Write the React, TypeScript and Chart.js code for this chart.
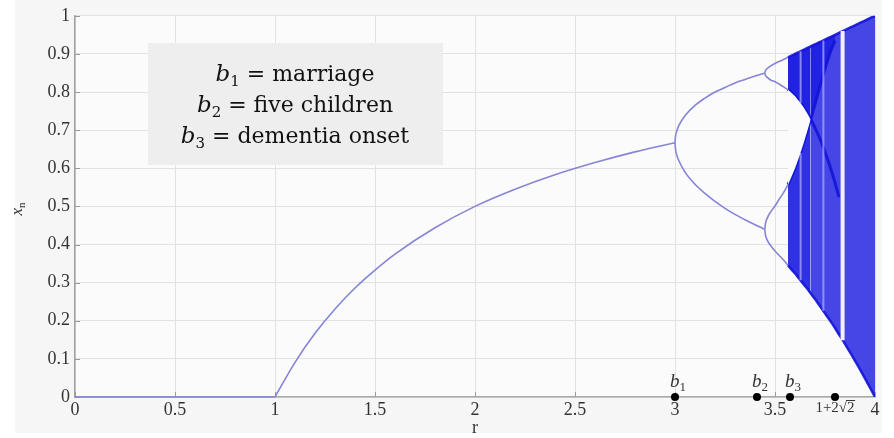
import { useEffect, useRef } from 'react';
import { Chart, registerables } from 'chart.js';
Chart.register(...registerables);

const W = 894;
const H = 438;

// tick labels
const xTickLabels = ['0', '0.5', '1', '1.5', '2', '2.5', '3', '3.5', '4'];
const yTickLabels = ['0', '0.1', '0.2', '0.3', '0.4', '0.5', '0.6', '0.7', '0.8', '0.9', '1'];

// stable branches
const zeroR = [0, 1];
const zeroX = [0, 0];
const fixedR = [1, 1.1, 1.2, 1.3, 1.4, 1.5, 1.6, 1.8, 2, 2.2, 2.4, 2.6, 2.8, 3.0];
const fixedX = [0, 0.091, 0.167, 0.231, 0.286, 0.333, 0.375, 0.444, 0.5, 0.545, 0.583, 0.615, 0.643, 0.667];
const p2R = [3, 3.002, 3.01, 3.02, 3.05, 3.1, 3.15, 3.2, 3.25, 3.3, 3.35, 3.4, 3.449];
const p2Upper = [0.667, 0.682, 0.699, 0.713, 0.738, 0.765, 0.784, 0.8, 0.812, 0.824, 0.833, 0.842, 0.85];
const p2Lower = [0.667, 0.652, 0.633, 0.619, 0.59, 0.558, 0.534, 0.513, 0.495, 0.479, 0.465, 0.452, 0.44];
const p4R = [3.449, 3.452, 3.46, 3.48, 3.5, 3.52, 3.545, 3.565];
const p4A = [0.85, 0.856, 0.861, 0.869, 0.875, 0.88, 0.886, 0.891];
const p4B = [0.85, 0.844, 0.839, 0.831, 0.827, 0.821, 0.813, 0.806];
const p4C = [0.44, 0.454, 0.468, 0.487, 0.501, 0.518, 0.538, 0.557];
const p4D = [0.44, 0.426, 0.413, 0.396, 0.383, 0.372, 0.358, 0.345];

// chaotic region: two bands before merging
const bandR = [3.565, 3.58, 3.6, 3.62, 3.64, 3.66, 3.678];
const bandUpperTop = [0.891, 0.895, 0.9, 0.905, 0.91, 0.915, 0.92];
const bandUpperBottom = [0.806, 0.799, 0.789, 0.776, 0.762, 0.745, 0.728];
const bandLowerTop = [0.557, 0.575, 0.6, 0.629, 0.661, 0.695, 0.728];
const bandLowerBottom = [0.345, 0.336, 0.324, 0.311, 0.298, 0.285, 0.272];
// merged chaotic region
const chaosR = [3.678, 3.7, 3.72, 3.74, 3.76, 3.78, 3.8, 3.82, 3.84, 3.86, 3.88, 3.9, 3.92, 3.94, 3.96, 3.98, 4.0];
const chaosTop = [0.92, 0.925, 0.93, 0.935, 0.94, 0.945, 0.95, 0.955, 0.96, 0.965, 0.97, 0.975, 0.98, 0.985, 0.99, 0.995, 1.0];
const chaosBottom = [0.272, 0.257, 0.242, 0.227, 0.212, 0.197, 0.181, 0.164, 0.148, 0.13, 0.113, 0.095, 0.077, 0.058, 0.039, 0.02, 0];
// dense (darker) zone near the top after merging
const darkR = [3.678, 3.7, 3.72, 3.74, 3.76, 3.78, 3.8];
const darkTop = [0.92, 0.925, 0.93, 0.935, 0.94, 0.945, 0.95];
const darkBottom = [0.727, 0.768, 0.806, 0.843, 0.878, 0.91, 0.935];
// dense curves inside the chaos
const denseAR = [3.565, 3.6, 3.64, 3.678, 3.7, 3.72, 3.74, 3.76, 3.78, 3.8, 3.82];
const denseA = [0.806, 0.789, 0.762, 0.729, 0.706, 0.683, 0.657, 0.628, 0.597, 0.562, 0.524];
const denseBR = [3.565, 3.6, 3.64, 3.678, 3.7, 3.72, 3.74, 3.76, 3.78, 3.8];
const denseB = [0.557, 0.6, 0.661, 0.727, 0.768, 0.806, 0.843, 0.878, 0.91, 0.935];
// periodic windows (light stripes)
const windowR = [3.838];
const windowLow = [0.149];
const windowHigh = [0.96];
const faintR = [3.628, 3.628, 3.742];
const faintLow = [0.306, 0.77, 0.226];
const faintHigh = [0.64, 0.907, 0.935];

// marked points on the r axis
const markR = [3.0, 3.41, 3.575, 3.8];
const markSubs = ['1', '2', '3'];
const legendSubs = ['1', '2', '3'];
const legendTexts = ['marriage', 'five children', 'dementia onset'];

const pts = (xs: number[], ys: number[]) => xs.map((x, i) => ({ x, y: ys[i] }));

const BRANCH = '#8585d6';
const PLOT_BG = '#fbfbfb';

function drawParts(ctx: CanvasRenderingContext2D, parts: { t: string; font: string; dy: number }[], x: number, y: number, align: 'center' | 'left') {
  let total = 0;
  for (const p of parts) {
    ctx.font = p.font;
    total += ctx.measureText(p.t).width;
  }
  let cx = align === 'center' ? x - total / 2 : x;
  ctx.textAlign = 'left';
  ctx.textBaseline = 'alphabetic';
  for (const p of parts) {
    ctx.font = p.font;
    ctx.fillText(p.t, cx, y + p.dy);
    cx += ctx.measureText(p.t).width;
  }
  return total;
}

const decor = {
  id: 'decor',
  beforeDraw(chart: any) {
    const ctx = chart.ctx as CanvasRenderingContext2D;
    const a = chart.chartArea;
    ctx.save();
    ctx.fillStyle = '#ffffff';
    ctx.fillRect(0, 0, W, H);
    ctx.fillStyle = '#f6f6f6';
    ctx.fillRect(15, 0, 867, 433);
    ctx.fillStyle = PLOT_BG;
    ctx.fillRect(a.left, a.top, a.right - a.left, a.bottom - a.top);
    ctx.restore();
  },
  beforeDatasetsDraw(chart: any) {
    const ctx = chart.ctx as CanvasRenderingContext2D;
    const a = chart.chartArea;
    const xs = chart.scales.x;
    const ys = chart.scales.y;
    ctx.save();
    ctx.strokeStyle = '#9a9a9a';
    ctx.lineWidth = 1;
    for (let i = 0; i < yTickLabels.length; i++) {
      const py = Math.round(ys.getPixelForValue(i / 10)) + 0.5;
      ctx.beginPath();
      ctx.moveTo(a.left, py);
      ctx.lineTo(a.left + 5, py);
      ctx.stroke();
    }
    for (let i = 0; i < xTickLabels.length; i++) {
      const px = Math.round(xs.getPixelForValue(i / 2)) + 0.5;
      ctx.beginPath();
      ctx.moveTo(px, a.bottom);
      ctx.lineTo(px, a.bottom - 5);
      ctx.stroke();
    }
    ctx.restore();
  },
  afterDatasetsDraw(chart: any) {
    const ctx = chart.ctx as CanvasRenderingContext2D;
    const xs = chart.scales.x;
    const a = chart.chartArea;
    ctx.save();
    // annotation box
    ctx.fillStyle = '#eeeeee';
    ctx.fillRect(148, 43, 295, 122);
    ctx.fillStyle = '#111111';
    for (let i = 0; i < legendTexts.length; i++) {
      drawParts(
        ctx,
        [
          { t: 'b', font: 'italic 23px "DejaVu Serif"', dy: 0 },
          { t: legendSubs[i], font: '15px "DejaVu Serif"', dy: 5 },
          { t: ' = ' + legendTexts[i], font: '22px "DejaVu Serif"', dy: 0 },
        ],
        295,
        81 + i * 31,
        'center'
      );
    }
    // labels b1..b3 above points
    ctx.fillStyle = '#333333';
    for (let i = 0; i < markSubs.length; i++) {
      const px = xs.getPixelForValue(markR[i]);
      drawParts(
        ctx,
        [
          { t: 'b', font: 'italic 19px "Liberation Serif"', dy: 0 },
          { t: markSubs[i], font: '13px "Liberation Serif"', dy: 4 },
        ],
        px + 3,
        a.bottom - 10,
        'center'
      );
    }
    // 1+2√2 label
    const px4 = xs.getPixelForValue(markR[3]);
    ctx.font = '15px "Liberation Serif"';
    ctx.textAlign = 'left';
    ctx.textBaseline = 'alphabetic';
    const s1 = '1+2';
    const s2 = '\u221A';
    const s3 = '2';
    const w1 = ctx.measureText(s1).width;
    const w2 = ctx.measureText(s2).width;
    const w3 = ctx.measureText(s3).width;
    const sx = px4 - (w1 + w2 + w3) / 2;
    const by = a.bottom + 15;
    ctx.fillText(s1, sx, by);
    ctx.fillText(s2, sx + w1, by);
    ctx.fillText(s3, sx + w1 + w2, by);
    ctx.strokeStyle = '#333333';
    ctx.lineWidth = 1;
    ctx.beginPath();
    ctx.moveTo(sx + w1 + w2 - 1, by - 11.5);
    ctx.lineTo(sx + w1 + w2 + w3 + 0.5, by - 11.5);
    ctx.stroke();
    ctx.restore();
  },
  afterDraw(chart: any) {
    const ctx = chart.ctx as CanvasRenderingContext2D;
    const a = chart.chartArea;
    ctx.save();
    ctx.fillStyle = '#333333';
    ctx.font = '18px "Liberation Serif"';
    ctx.textAlign = 'center';
    ctx.textBaseline = 'alphabetic';
    ctx.fillText('r', (a.left + a.right) / 2, 433);
    ctx.translate(22, 209);
    ctx.rotate(-Math.PI / 2);
    drawParts(
      ctx,
      [
        { t: 'x', font: 'italic 17px "Liberation Serif"', dy: 0 },
        { t: 'n', font: '11px "Liberation Serif"', dy: 3 },
      ],
      0,
      0,
      'center'
    );
    ctx.restore();
  },
};

export default function App() {
  const ref = useRef<HTMLCanvasElement | null>(null);
  useEffect(() => {
    if (!ref.current) return;
    const branch = (data: { x: number; y: number }[]) => ({
      type: 'line',
      data,
      borderColor: BRANCH,
      backgroundColor: 'rgba(0,0,0,0)',
      borderWidth: 1.6,
      pointRadius: 0,
      fill: false,
      cubicInterpolationMode: 'monotone',
      clip: false,
      order: 1,
    });
    const area = (data: { x: number; y: number }[], fill: any, bg: string, order: number) => ({
      type: 'line',
      data,
      borderColor: 'rgba(0,0,0,0)',
      borderWidth: 0,
      pointRadius: 0,
      fill,
      backgroundColor: bg,
      order,
    });
    const dense = (data: { x: number; y: number }[], color: string, w: number) => ({
      type: 'line',
      data,
      borderColor: color,
      backgroundColor: 'rgba(0,0,0,0)',
      borderWidth: w,
      pointRadius: 0,
      fill: false,
      tension: 0.3,
      order: 3,
    });
    const stripeData = (r: number[], lo: number[], hi: number[]) => {
      const out: any[] = [];
      r.forEach((x, i) => {
        out.push({ x, y: lo[i] }, { x, y: hi[i] }, { x, y: null });
      });
      return out;
    };
    const datasets: any[] = [];
    // marked points (top)
    datasets.push({
      type: 'line',
      data: markR.map((x) => ({ x, y: 0 })),
      showLine: false,
      fill: false,
      pointRadius: 4,
      pointBackgroundColor: '#000000',
      pointBorderColor: '#000000',
      pointBorderWidth: 0,
      clip: false,
      order: 0,
    });
    datasets.push(branch(pts(zeroR, zeroX)));
    datasets.push(branch(pts(fixedR, fixedX)));
    datasets.push(branch(pts(p2R, p2Upper)));
    datasets.push(branch(pts(p2R, p2Lower)));
    datasets.push(branch(pts(p4R, p4A)));
    datasets.push(branch(pts(p4R, p4B)));
    datasets.push(branch(pts(p4R, p4C)));
    datasets.push(branch(pts(p4R, p4D)));
    // gap between the two bands (background colour)
    const iGT = datasets.length;
    datasets.push(area(pts(bandR, bandUpperBottom), false, 'rgba(0,0,0,0)', 2));
    datasets.push(area(pts(bandR, bandLowerTop), { target: iGT }, PLOT_BG, 2));
    // windows
    datasets.push({
      type: 'line',
      data: stripeData(windowR, windowLow, windowHigh),
      borderColor: '#f2f2fb',
      backgroundColor: 'rgba(0,0,0,0)',
      borderWidth: 4,
      pointRadius: 0,
      fill: false,
      spanGaps: false,
      order: 2,
    });
    datasets.push({
      type: 'line',
      data: stripeData(faintR, faintLow, faintHigh),
      borderColor: 'rgba(170,170,248,0.75)',
      backgroundColor: 'rgba(0,0,0,0)',
      borderWidth: 2,
      pointRadius: 0,
      fill: false,
      spanGaps: false,
      order: 2,
    });
    // dense curves
    datasets.push(dense(pts(denseAR, denseA), 'rgba(18,18,215,0.85)', 3));
    datasets.push(dense(pts(denseBR, denseB), 'rgba(18,18,215,0.85)', 3));
    datasets.push(dense(pts(bandR.concat(chaosR.slice(1)), bandUpperTop.concat(chaosTop.slice(1))), 'rgba(18,18,215,0.9)', 2.5));
    datasets.push(dense(pts(bandR.concat(chaosR.slice(1)), bandLowerBottom.concat(chaosBottom.slice(1))), 'rgba(18,18,215,0.9)', 2.5));
    // dark zone above the dense curve
    const iDT = datasets.length;
    datasets.push(area(pts(darkR, darkTop), false, 'rgba(0,0,0,0)', 4));
    datasets.push(area(pts(darkR, darkBottom), { target: iDT }, '#2222e3', 4));
    // upper band
    const iUT = datasets.length;
    datasets.push(area(pts(bandR, bandUpperTop), false, 'rgba(0,0,0,0)', 5));
    datasets.push(area(pts(bandR, bandUpperBottom), { target: iUT }, '#2222e3', 5));
    // lower band
    const iLT = datasets.length;
    datasets.push(area(pts(bandR, bandLowerTop), false, 'rgba(0,0,0,0)', 5));
    datasets.push(area(pts(bandR, bandLowerBottom), { target: iLT }, '#3030e4', 5));
    // merged region
    const iCT = datasets.length;
    datasets.push(area(pts(chaosR, chaosTop), false, 'rgba(0,0,0,0)', 6));
    datasets.push(area(pts(chaosR, chaosBottom), { target: iCT }, '#4646e7', 6));

    const chart = new Chart(ref.current, {
      type: 'line',
      data: { datasets },
      options: {
        animation: false,
        responsive: false,
        devicePixelRatio: 1,
        events: [],
        layout: { padding: { top: 15, right: 19, left: 0, bottom: 0 } },
        plugins: { legend: { display: false }, tooltip: { enabled: false } },
        elements: { line: { tension: 0 } },
        scales: {
          x: {
            type: 'linear',
            min: 0,
            max: 4,
            afterFit: (s: any) => {
              s.height = 41;
            },
            ticks: {
              stepSize: 0.5,
              autoSkip: false,
              maxRotation: 0,
              padding: 2,
              color: '#333333',
              font: { family: '"Liberation Serif"', size: 18 },
              callback: (_v: any, i: number) => xTickLabels[i] ?? '',
            },
            grid: { color: '#e2e2e2', drawTicks: false },
            border: { color: '#a8a8a8', width: 1.5 },
          },
          y: {
            type: 'linear',
            min: 0,
            max: 1,
            afterFit: (s: any) => {
              s.width = 75;
            },
            ticks: {
              stepSize: 0.1,
              autoSkip: false,
              padding: 5,
              color: '#333333',
              font: { family: '"Liberation Serif"', size: 18 },
              callback: (_v: any, i: number) => yTickLabels[i] ?? '',
            },
            grid: { color: '#e2e2e2', drawTicks: false },
            border: { color: '#a0a0a0', width: 1.5 },
          },
        },
      } as any,
      plugins: [decor],
    });
    return () => chart.destroy();
  }, []);
  return (
    <div style={{ position: 'absolute', left: 0, top: 0, width: W, height: H }}>
      <canvas ref={ref} width={W} height={H} />
    </div>
  );
}
